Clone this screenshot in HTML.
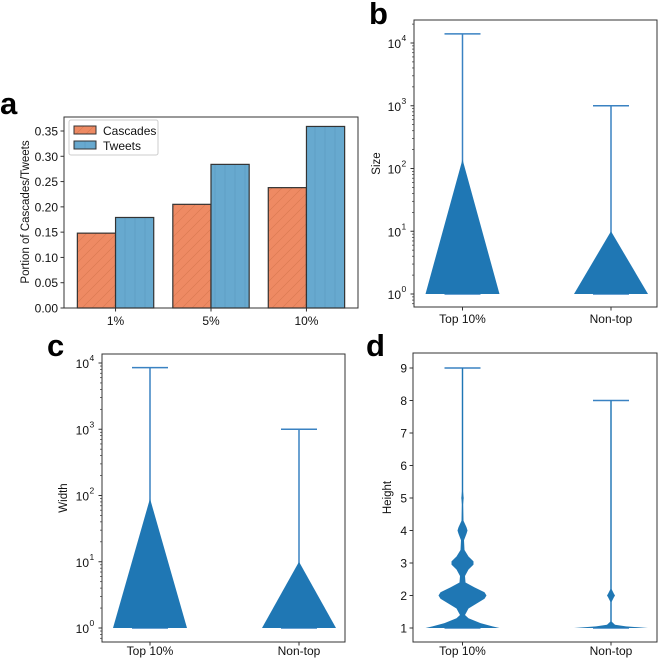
<!DOCTYPE html>
<html><head><meta charset="utf-8">
<style>
html,body{margin:0;padding:0;background:#fff;}
svg{display:block;font-family:"Liberation Sans","DejaVu Sans",sans-serif;}
</style></head>
<body>
<svg id="fig" width="660" height="658" viewBox="0 0 660 658" xmlns="http://www.w3.org/2000/svg">
<defs>
<pattern id="hatchA" width="10" height="10" patternUnits="userSpaceOnUse">
<rect width="10" height="10" fill="#ee8a63"/>
<path d="M0,10 L10,0 M-2,2 L2,-2 M8,12 L12,8" stroke="#d9784f" stroke-width="0.6"/>
</pattern>
<pattern id="hatchB" width="10" height="10" patternUnits="userSpaceOnUse">
<rect width="10" height="10" fill="#67a9cf"/>
<path d="M5,0 L5,10" stroke="#5a98c0" stroke-width="0.6"/>
</pattern>
</defs>
<g id="root"></g>
</svg>
<script>
// ---- Panel a data ----
const aCategories = ["1%", "5%", "10%"];
const aCascades = [0.148, 0.205, 0.238];
const aTweets = [0.179, 0.284, 0.359];
const aTicks = [0, 0.05, 0.10, 0.15, 0.20, 0.25, 0.30, 0.35];
const aTickLabels = ["0.00","0.05","0.10","0.15","0.20","0.25","0.30","0.35"];
// ---- Panel b (Size) ----
const violinCats = ["Top 10%", "Non-top"];
const bMax = [14000, 1000];
const bApex = [140, 10];
// ---- Panel c (Width) ----
const cMax = [8500, 1000];
const cApex = [90, 10];
// ---- Panel d (Height) density profiles ----
const dTopVals = [1,1.05,1.15,1.3,1.4,1.6,1.75,1.9,2,2.1,2.25,2.4,2.6,2.8,2.95,3.05,3.2,3.4,3.7,3.9,4,4.1,4.3,4.8,5,5.2,9];
const dTopDens = [37,30,18,6,2.5,6,14,22,24,22,12,3,2.5,6,11,11,6,2,1.5,4,5,4,1,0.5,1.2,0.5,0.5];
const dNonVals = [1,1.05,1.1,1.2,1.8,1.95,2,2.05,2.2,8];
const dNonDens = [37,15,4,0.5,0.5,3,4,3,0.5,0.5];
const dMax = [9, 8];
const dTicks = [1,2,3,4,5,6,7,8,9];
const logTicks = [0,1,2,3,4];

const NS = "http://www.w3.org/2000/svg";
const root = document.getElementById("root");
function mk(tag, attrs, parent) {
  const e = document.createElementNS(NS, tag);
  for (const k in attrs) e.setAttribute(k, attrs[k]);
  (parent || root).appendChild(e);
  return e;
}
const AX = "#333", VC = "#1f77b4", LC = "#3a82c2";
const FS = 12;

// ===== Panel a =====
const ga = mk("g", {});


const aL = 64, aR = 358, aT = 117, aB = 308;
const ax = v => aL + (v + 0.54) * (aR - aL) / 3.08;
const ay = v => aB - v / 0.35 * (aB - 131);
const bw = 0.4 * (aR - aL) / 3.08;
aCategories.forEach((c, i) => {
  const r1 = mk("rect", {x: ax(i) - bw, y: ay(aCascades[i]), width: bw, height: aB - ay(aCascades[i]), fill: "url(#hatchA)", stroke: "#333", "stroke-width": 1.2}, ga);
  
  
  const r2 = mk("rect", {x: ax(i), y: ay(aTweets[i]), width: bw, height: aB - ay(aTweets[i]), fill: "url(#hatchB)", stroke: "#333", "stroke-width": 1.2}, ga);
  
  
  mk("line", {x1: ax(i), x2: ax(i), y1: aB, y2: aB + 3.5, stroke: AX}, ga);
  const t = mk("text", {x: ax(i), y: aB + 17, "font-size": FS, "text-anchor": "middle", fill: "#111"}, ga);
  t.textContent = c;
  
  
});
aTicks.forEach((v, i) => {
  mk("line", {x1: aL - 3.5, x2: aL, y1: ay(v), y2: ay(v), stroke: AX}, ga);
  const t = mk("text", {x: aL - 6, y: ay(v) + 4.5, "font-size": FS, "text-anchor": "end", fill: "#111"}, ga);
  t.textContent = aTickLabels[i];
  
  
});
mk("rect", {x: aL, y: aT, width: aR - aL, height: aB - aT, fill: "none", stroke: AX, "stroke-width": 1}, ga);
const ayl = mk("text", {x: 0, y: 0, transform: "translate(29,212) rotate(-90)", "font-size": 11.5, "text-anchor": "middle", fill: "#111"}, ga);
ayl.textContent = "Portion of Cascades/Tweets";


const leg = mk("g", {}, ga);


mk("rect", {x: 69, y: 120, width: 89, height: 35, rx: 2, fill: "#fff", stroke: "#ccc"}, leg);
mk("rect", {x: 74, y: 126, width: 22, height: 8, fill: "url(#hatchA)", stroke: "#333"}, leg);
mk("rect", {x: 74, y: 141, width: 22, height: 8, fill: "url(#hatchB)", stroke: "#333"}, leg);
const l1 = mk("text", {x: 103, y: 135, "font-size": FS, fill: "#111"}, leg); l1.textContent = "Cascades";


const l2 = mk("text", {x: 103, y: 150, "font-size": FS, fill: "#111"}, leg); l2.textContent = "Tweets";



// ===== Violin panel helper =====
function panel(name, L, R, T, B, yfun, xs, ylabel, ylx) {
  const g = mk("g", {});
  
  
  mk("rect", {x: L, y: T, width: R - L, height: B - T, fill: "none", stroke: AX}, g);
  violinCats.forEach((c, i) => {
    mk("line", {x1: xs[i], x2: xs[i], y1: B, y2: B + 3.5, stroke: AX}, g);
    const t = mk("text", {x: xs[i], y: Math.min(B + 16, 655), "font-size": FS, "text-anchor": "middle", fill: "#111"}, g);
    t.textContent = c;
    
    
  });
  const yl = mk("text", {x: 0, y: 0, transform: "translate(" + ylx + "," + ((T + B) / 2) + ") rotate(-90)", "font-size": 11.5, "text-anchor": "middle", fill: "#111"}, g);
  yl.textContent = ylabel;
  
  
  return g;
}
function logAxis(g, L, yfun, T, B) {
  logTicks.forEach(p => {
    mk("line", {x1: L - 3.5, x2: L, y1: yfun(Math.pow(10, p)), y2: yfun(Math.pow(10, p)), stroke: AX}, g);
    const t = mk("text", {x: L - 13, y: yfun(Math.pow(10, p)) + 5, "font-size": FS, "text-anchor": "end", fill: "#111"}, g);
    t.textContent = "10";
    
    
    const s = mk("text", {x: L - 12.5, y: yfun(Math.pow(10, p)) - 2, "font-size": 8.5, fill: "#111"}, g);
    s.textContent = String(p);
  });
  for (let p = -1; p <= 4; p++) for (let m = 2; m <= 9; m++) {
    const y = yfun(m * Math.pow(10, p));
    if (y > T && y < B) mk("line", {x1: L - 2, x2: L, y1: y, y2: y, stroke: AX, "stroke-width": 0.7}, g);
  }
}
function violin(g, name, cx, vals, dens, yfun) {
  let pts = [];
  vals.forEach((v, i) => pts.push((cx + dens[i]) + "," + yfun(v)));
  for (let i = vals.length - 1; i >= 0; i--) pts.push((cx - dens[i]) + "," + yfun(vals[i]));
  const p = mk("polygon", {points: pts.join(" "), fill: VC, stroke: "none"}, g);
  
  
}
function extrema(g, cx, lo, hi, yfun) {
  mk("line", {x1: cx, x2: cx, y1: yfun(lo), y2: yfun(hi), stroke: LC, "stroke-width": 1.5}, g);
  mk("line", {x1: cx - 18, x2: cx + 18, y1: yfun(hi), y2: yfun(hi), stroke: LC, "stroke-width": 1.5}, g);
  mk("line", {x1: cx - 18, x2: cx + 18, y1: yfun(lo), y2: yfun(lo), stroke: LC, "stroke-width": 1.5}, g);
}

// ===== Panel b =====
{
  const L = 414, R = 657, T = 20, B = 307;
  const y = v => 294 - Math.log10(v) * (294 - 43) / 4;
  const xs = [462.5, 611];
  const g = panel("panel-b", L, R, T, B, y, xs, "Size", 380);
  logAxis(g, L, y, T, B);
  xs.forEach((cx, i) => {
    extrema(g, cx, 1, bMax[i], y);
    violin(g, "violin-size-" + i, cx, [1, bApex[i]], [37, 0], y);
  });
}
// ===== Panel c =====
{
  const L = 102, R = 345, T = 354, B = 642;
  const y = v => 628 - Math.log10(v) * (628 - 363) / 4;
  const xs = [150, 299];
  const g = panel("panel-c", L, R, T, B, y, xs, "Width", 67);
  logAxis(g, L, y, T, B);
  xs.forEach((cx, i) => {
    extrema(g, cx, 1, cMax[i], y);
    violin(g, "violin-width-" + i, cx, [1, cApex[i]], [37, 0], y);
  });
}
// ===== Panel d =====
{
  const L = 413, R = 657, T = 353, B = 642;
  const y = v => 628 - (v - 1) * (628 - 368) / 8;
  const xs = [462.5, 611];
  const g = panel("panel-d", L, R, T, B, y, xs, "Height", 391);
  dTicks.forEach(v => {
    mk("line", {x1: L - 3.5, x2: L, y1: y(v), y2: y(v), stroke: AX}, g);
    const t = mk("text", {x: L - 6, y: y(v) + 4.5, "font-size": FS, "text-anchor": "end", fill: "#111"}, g);
    t.textContent = String(v);
    
    
  });
  extrema(g, xs[0], 1, dMax[0], y);
  extrema(g, xs[1], 1, dMax[1], y);
  violin(g, "violin-height-top", xs[0], dTopVals, dTopDens, y);
  violin(g, "violin-height-nontop", xs[1], dNonVals, dNonDens, y);
}
// ===== Panel letters =====
[["a", 0, 114], ["b", 369, 24], ["c", 47, 356], ["d", 366, 356]].forEach(l => {
  const t = mk("text", {x: l[1], y: l[2], "font-size": 31, "font-weight": "bold", fill: "#000"});
  t.textContent = l[0];
  
  
});
</script>
</body></html>
